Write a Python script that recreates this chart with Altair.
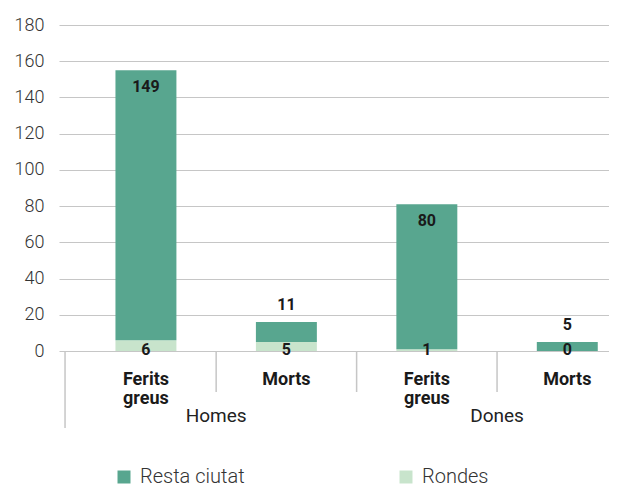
import altair as alt
import pandas as pd

# ---- data ----
groups = ["Homes", "Dones"]
subcats = ["Ferits\ngreus", "Morts", "Ferits\ngreus", "Morts"]
rondes = [6, 5, 1, 0]
resta = [149, 11, 80, 5]
series = ["Resta ciutat", "Rondes"]
colors = ["#58a68f", "#c8e4cc"]
y_ticks = [0, 20, 40, 60, 80, 100, 120, 140, 160, 180]

# ---- tables built from the arrays ----
pos = list(range(len(subcats)))
half = 0.217
rows = []
for i in pos:
    rows.append(dict(pos=i, lo=i - half, hi=i + half, serie="Rondes",
                     y0=0, y1=rondes[i], val=rondes[i]))
    rows.append(dict(pos=i, lo=i - half, hi=i + half, serie="Resta ciutat",
                     y0=rondes[i], y1=rondes[i] + resta[i], val=resta[i]))
bars_df = pd.DataFrame(rows)
cat_df = pd.DataFrame(dict(pos=pos, label=subcats))
grp_df = pd.DataFrame(dict(pos=[0.5, 2.5], label=groups))
sep_df = pd.DataFrame(dict(pos=[p + 0.5 for p in pos[:-1]]))
edge_df = pd.DataFrame(dict(pos=[-0.576]))

xs = alt.Scale(domain=[-0.619, 3.297], nice=False, zero=False)
ys = alt.Scale(domain=[0, 180], nice=False)
FONT = "Roboto"
GRID = "#c6c6c6"

y_axis = alt.Axis(values=y_ticks, grid=True, domain=False, ticks=False,
                  labelOverlap=False, title=None,
                  labelPadding=15, labelFontSize=18, labelFont=FONT,
                  labelFontWeight=300, labelColor="#333333",
                  gridColor=GRID, gridWidth=1.2)

bars = alt.Chart(bars_df).mark_bar().encode(
    x=alt.X("lo:Q", scale=xs, axis=None),
    x2="hi:Q",
    y=alt.Y("y1:Q", scale=ys, title=None, axis=y_axis),
    y2="y0:Q",
    color=alt.Color("serie:N", scale=alt.Scale(domain=series, range=colors),
                    legend=alt.Legend(title=None, orient="none", direction="horizontal",
                                      legendX=55, legendY=442, symbolType="square",
                                      symbolSize=169, symbolStrokeWidth=0,
                                      labelFontSize=20, labelFont=FONT,
                                      labelFontWeight=300, labelColor="#333333",
                                      columnPadding=151, labelOffset=6)),
)

txt = dict(font=FONT, fontSize=16, fontWeight="bold", color="#1a1a1a", baseline="middle")

resta_big = alt.Chart(bars_df).transform_filter(
    "datum.serie == 'Resta ciutat' && datum.y1 > 50"
).mark_text(dy=17, **txt).encode(
    x=alt.X("pos:Q", scale=xs, axis=None),
    y=alt.Y("y1:Q", scale=ys, title=None, axis=y_axis),
    text="val:Q",
)
resta_small = alt.Chart(bars_df).transform_filter(
    "datum.serie == 'Resta ciutat' && datum.y1 <= 50"
).mark_text(dy=-17, **txt).encode(
    x=alt.X("pos:Q", scale=xs, axis=None),
    y=alt.Y("y1:Q", scale=ys, title=None, axis=y_axis),
    text="val:Q",
)
rondes_lbl = alt.Chart(bars_df).transform_filter(
    "datum.serie == 'Rondes'"
).mark_text(dy=-1, **txt).encode(
    x=alt.X("pos:Q", scale=xs, axis=None),
    y=alt.Y("y0:Q", scale=ys, title=None, axis=y_axis),
    text="val:Q",
)

cat_lbl = alt.Chart(cat_df).mark_text(
    font=FONT, fontSize=18, fontWeight="bold", color="#1a1a1a",
    baseline="alphabetic", lineBreak="\n", lineHeight=19,
).encode(
    x=alt.X("pos:Q", scale=xs, axis=None),
    y=alt.value(360),
    text="label:N",
)
grp_lbl = alt.Chart(grp_df).mark_text(
    font=FONT, fontSize=19, fontWeight="normal", color="#222222", baseline="alphabetic",
).encode(
    x=alt.X("pos:Q", scale=xs, axis=None),
    y=alt.value(397),
    text="label:N",
)
seps = alt.Chart(sep_df).mark_rule(color=GRID, strokeWidth=1.5).encode(
    x=alt.X("pos:Q", scale=xs, axis=None),
    y=alt.value(326),
    y2=alt.value(367),
)
edge = alt.Chart(edge_df).mark_rule(color=GRID, strokeWidth=1.5).encode(
    x=alt.X("pos:Q", scale=xs, axis=None),
    y=alt.value(326),
    y2=alt.value(403),
)

chart = alt.layer(
    seps, edge, bars, resta_big, resta_small, rondes_lbl, cat_lbl, grp_lbl
).properties(
    width=550, height=326,
    padding={"left": 51, "top": 17, "right": 0, "bottom": 137},
    autosize=alt.AutoSizeParams(type="none"),
).configure_view(stroke=None)

chart.save("out.html", embed_options={"renderer": "svg", "actions": False})
